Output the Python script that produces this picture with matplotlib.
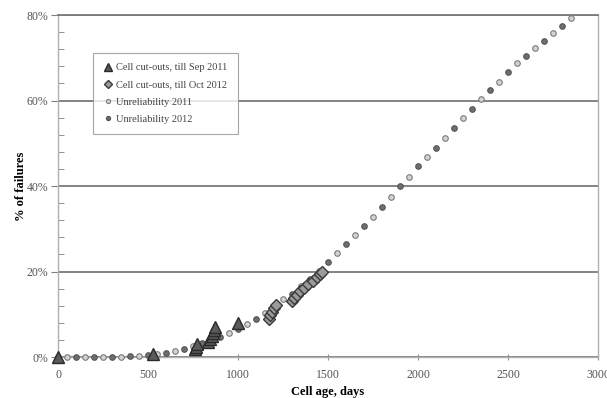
import matplotlib
matplotlib.use("Agg")
import matplotlib.pyplot as plt
from matplotlib.ticker import MultipleLocator, FuncFormatter

# Cell cut-outs (days, % of failures)
cut_2011_days = [0, 526, 760, 765, 770, 835, 845, 855, 862, 866, 870, 1000]
cut_2011_pct = [0.0, 0.8, 1.8, 2.4, 3.0, 3.6, 4.2, 4.9, 5.6, 6.3, 7.0, 8.0]

cut_2012_days = [1170, 1180, 1190, 1200, 1210, 1300, 1310, 1325, 1345, 1365,
                 1390, 1415, 1440, 1455, 1465]
cut_2012_pct = [8.9, 9.8, 10.6, 11.4, 12.2, 13.0, 13.8, 14.6, 15.4, 16.2,
                17.0, 17.8, 18.6, 19.4, 20.0]

# Unreliability curves
unrel_2011_days = [50, 150, 250, 350, 450, 550, 650, 750, 850, 950, 1050, 1150,
                   1250, 1350, 1450, 1550, 1650, 1750, 1850, 1950, 2050, 2150,
                   2250, 2350, 2450, 2550, 2650, 2750, 2850]
unrel_2011_pct = [0.0, 0.0, 0.05, 0.1, 0.3, 0.7, 1.4, 2.5, 3.9, 5.6, 7.8, 10.4,
                  13.5, 16.5, 20.2, 24.4, 28.5, 32.8, 37.5, 42.2, 46.9, 51.3,
                  55.8, 60.4, 64.4, 68.7, 72.2, 75.8, 79.2]

unrel_2012_days = [0, 100, 200, 300, 400, 500, 600, 700, 800, 900, 1000, 1100,
                   1200, 1300, 1400, 1500, 1600, 1700, 1800, 1900, 2000, 2100,
                   2200, 2300, 2400, 2500, 2600, 2700, 2800]
unrel_2012_pct = [0.0, 0.0, 0.05, 0.1, 0.2, 0.5, 1.0, 1.9, 3.2, 4.7, 6.6, 9.0,
                  11.8, 14.8, 18.2, 22.3, 26.4, 30.6, 35.2, 40.0, 44.6, 49.0,
                  53.5, 58.0, 62.5, 66.7, 70.4, 74.0, 77.5]

plt.rcParams['font.family'] = ['Liberation Serif', 'DejaVu Serif']

fig = plt.figure(figsize=(6.07, 3.98), dpi=100)
ax = fig.add_axes([58/607, 1-357/398, 540/607, 342/398])

# Unreliability points
l_open, = ax.plot(unrel_2011_days, unrel_2011_pct, 'o', ms=4.0, mfc='#d4d4d4',
                  mec='#7a7a7a', mew=0.8, label='Unreliability 2011', zorder=3,
                  clip_on=False)
l_fill, = ax.plot(unrel_2012_days, unrel_2012_pct, 'o', ms=4.0, mfc='#6e6e6e',
                  mec='#555555', mew=0.8, label='Unreliability 2012', zorder=3,
                  clip_on=False)

# Cut-outs
l_dia, = ax.plot(cut_2012_days, cut_2012_pct, 'D', ms=6, mfc='#9a9a9a',
                 mec='#3a3a3a', mew=1.0, label='Cell cut-outs, till Oct 2012',
                 zorder=4, clip_on=False)
l_tri, = ax.plot(cut_2011_days, cut_2011_pct, '^', ms=8, mfc='#5a5a5a',
                 mec='#2a2a2a', mew=1.0, label='Cell cut-outs, till Sep 2011',
                 zorder=5, clip_on=False)

# Axes limits and ticks
ax.set_xlim(0, 3000)
ax.set_ylim(0, 80)
ax.xaxis.set_major_locator(MultipleLocator(500))
ax.yaxis.set_major_locator(MultipleLocator(20))
ax.yaxis.set_minor_locator(MultipleLocator(4))
ax.yaxis.set_major_formatter(FuncFormatter(lambda v, pos: '{:.0f}%'.format(v)))
ax.tick_params(axis='y', which='major', direction='out', length=5, color='#808080',
               labelsize=8.5, labelcolor='#555555', pad=2)
ax.tick_params(axis='y', which='minor', direction='in', length=4, color='#808080')
ax.tick_params(axis='x', which='major', direction='inout', length=5, color='#909090',
               labelsize=8.5, labelcolor='#555555', pad=6)

# Gridlines and spines
ax.grid(axis='y', which='major', color='#7a7a7a', linewidth=1.3)
ax.set_axisbelow(True)
for side in ['left', 'right', 'bottom']:
    ax.spines[side].set_color('#b0b0b0')
    ax.spines[side].set_linewidth(1.0)
ax.spines['top'].set_color('#7a7a7a')
ax.spines['top'].set_linewidth(1.3)

# Labels
ax.set_xlabel('Cell age, days', fontsize=9, fontweight='bold', labelpad=4)
ax.set_ylabel('% of failures', fontsize=9, fontweight='bold', labelpad=0)

# Legend
leg = ax.legend(handles=[l_tri, l_dia, l_open, l_fill], loc='upper left',
                bbox_to_anchor=(0.065, 0.89), fontsize=7.5, frameon=True,
                fancybox=False, edgecolor='#909090', handlelength=0.8,
                handletextpad=0.4, borderpad=1.0, labelspacing=0.75,
                borderaxespad=0, markerscale=0.75)
leg.get_frame().set_linewidth(0.8)
for t in leg.get_texts():
    t.set_color('#444444')

fig.savefig('out.png', dpi=100)
